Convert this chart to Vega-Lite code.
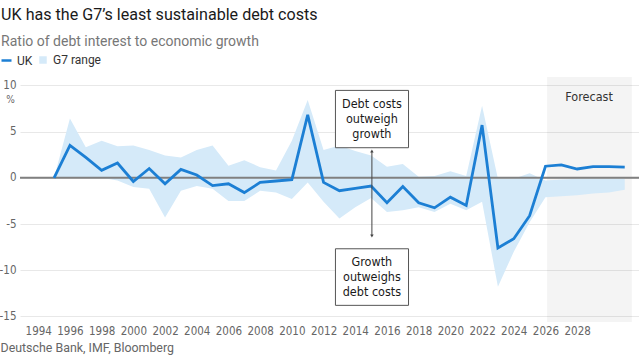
{
  "$schema": "https://vega.github.io/schema/vega-lite/v6.json",
  "autosize": {"type": "none"},
  "width": 619,
  "height": 245,
  "padding": {"left": 20, "top": 77, "right": 0, "bottom": 34},
  "background": "white",
  "config": {
    "view": {"stroke": null},
    "font": "Roboto",
    "axis": {"labelOverlap": false, "labelSeparation": 0, "labelBound": false}
  },
  "title": {
    "text": "UK has the G7’s least sustainable debt costs",
    "subtitle": "Ratio of debt interest to economic growth",
    "anchor": "start",
    "frame": "bounds",
    "dx": 2,
    "fontSize": 16.1,
    "fontWeight": "normal",
    "color": "#1a1a1a",
    "subtitleFontSize": 14,
    "subtitleColor": "#777777",
    "subtitlePadding": 12,
    "offset": 5
  },
  "data": {
    "values": [
      {"year": 1995, "uk": 0, "low": 0, "high": 0},
      {"year": 1996, "uk": 3.5, "low": 0, "high": 6.4},
      {"year": 1997, "uk": 2.2, "low": 0, "high": 3.3},
      {"year": 1998, "uk": 0.8, "low": 0, "high": 4.0},
      {"year": 1999, "uk": 1.6, "low": -0.3, "high": 3.4},
      {"year": 2000, "uk": -0.4, "low": -1.0, "high": 3.5},
      {"year": 2001, "uk": 1.0, "low": -1.2, "high": 3.0},
      {"year": 2002, "uk": -0.65, "low": -4.3, "high": 2.4},
      {"year": 2003, "uk": 0.9, "low": -1.4, "high": 2.2},
      {"year": 2004, "uk": 0.3, "low": -0.9, "high": 3.0},
      {"year": 2005, "uk": -0.85, "low": -1.2, "high": 3.5},
      {"year": 2006, "uk": -0.65, "low": -2.5, "high": 1.3},
      {"year": 2007, "uk": -1.6, "low": -2.5, "high": 1.9},
      {"year": 2008, "uk": -0.5, "low": -1.4, "high": 1.15},
      {"year": 2009, "uk": -0.35, "low": -1.6, "high": 0.8},
      {"year": 2010, "uk": -0.2, "low": -2.3, "high": 4.0},
      {"year": 2011, "uk": 6.8, "low": -0.5, "high": 8.4},
      {"year": 2012, "uk": -0.5, "low": -2.6, "high": 3.0},
      {"year": 2013, "uk": -1.4, "low": -4.4, "high": 3.5},
      {"year": 2014, "uk": -1.15, "low": -3.2, "high": 2.9},
      {"year": 2015, "uk": -0.9, "low": -2.2, "high": 2.4},
      {"year": 2016, "uk": -2.7, "low": -3.7, "high": 1.2},
      {"year": 2017, "uk": -0.95, "low": -3.5, "high": 1.5},
      {"year": 2018, "uk": -2.7, "low": -3.2, "high": 0.1},
      {"year": 2019, "uk": -3.25, "low": -3.7, "high": 0.2},
      {"year": 2020, "uk": -2.1, "low": -2.8, "high": 0.7},
      {"year": 2021, "uk": -3.0, "low": -3.5, "high": 0.2},
      {"year": 2022, "uk": 5.7, "low": -2.6, "high": 7.8},
      {"year": 2023, "uk": -7.6, "low": -11.8, "high": -0.1},
      {"year": 2024, "uk": -6.6, "low": -8.0, "high": -0.1},
      {"year": 2025, "uk": -4.1, "low": -4.8, "high": 0.5},
      {"year": 2026, "uk": 1.25, "low": -2.1, "high": -0.3},
      {"year": 2027, "uk": 1.4, "low": -2.0, "high": -0.2},
      {"year": 2028, "uk": 0.95, "low": -1.9, "high": -0.1},
      {"year": 2029, "uk": 1.2, "low": -1.7, "high": -0.1},
      {"year": 2030, "uk": 1.2, "low": -1.6, "high": -0.1},
      {"year": 2031, "uk": 1.15, "low": -1.3, "high": -0.1}
    ]
  },
  "layer": [
    {
      "data": {"values": [{}]},
      "mark": {"type": "rect", "fill": "#000000", "fillOpacity": 0.045},
      "encoding": {
        "x": {"datum": 2026.1, "type": "quantitative"},
        "x2": {"datum": 2031.45}
      }
    },
    {
      "mark": {"type": "area"},
      "encoding": {
        "x": {
          "field": "year",
          "type": "quantitative",
          "scale": {"domain": [1992.85, 2031.9], "nice": false, "zero": false},
          "axis": {
            "values": [1994, 1996, 1998, 2000, 2002, 2004, 2006, 2008, 2010, 2012, 2014, 2016, 2018, 2020, 2022, 2024, 2026, 2028],
            "tickCount": 40,
            "format": "d",
            "labelOverlap": false,
            "grid": false,
            "domain": false,
            "ticks": false,
            "labelFont": "DejaVu Sans Condensed, Roboto, sans-serif",
            "labelFontSize": 11.5,
            "labelColor": "#666666",
            "labelPadding": 3,
            "title": "Deutsche Bank, IMF, Bloomberg",
            "titleX": -20,
            "titleY": 25,
            "titleAlign": "left",
            "titleAnchor": null,
            "titleBaseline": "middle",
            "titleAngle": 0,
            "titleFont": "Roboto",
            "titleFontSize": 12.4,
            "titleFontWeight": "normal",
            "titleColor": "#666666"
          }
        },
        "y": {
          "field": "low",
          "type": "quantitative",
          "scale": {"domain": [-15.6, 10.9], "nice": false, "zero": false},
          "axis": {
            "values": [-15, -10, -5, 0, 5, 10],
            "tickCount": 10,
            "labelExpr": "'' + datum.value",
            "grid": true,
            "gridColor": "#e8e8e8",
            "gridWidth": 1,
            "domain": false,
            "ticks": false,
            "labelPadding": 4,
            "labelFont": "DejaVu Sans Condensed, Roboto, sans-serif",
            "labelFontSize": 11.5,
            "labelColor": "#666666",
            "title": "%",
            "titleX": -10,
            "titleY": 22,
            "titleAngle": 0,
            "titleAlign": "center",
            "titleBaseline": "middle",
            "titleFont": "DejaVu Sans Condensed, Roboto, sans-serif",
            "titleFontSize": 10,
            "titleFontWeight": "normal",
            "titleColor": "#666666"
          }
        },
        "y2": {"field": "high"},
        "fill": {
          "datum": "G7 range",
          "type": "nominal",
          "scale": {"range": ["#d5eaf9"]},
          "legend": {
            "orient": "none",
            "legendX": 17,
            "legendY": -23,
            "title": null,
            "symbolType": "square",
            "symbolSize": 56,
            "symbolStrokeWidth": 0,
            "labelFont": "Roboto",
            "labelFontSize": 12,
            "labelColor": "#333333",
            "padding": 0
          }
        }
      }
    },
    {
      "data": {"values": [{}]},
      "mark": {"type": "rule", "color": "#808080", "strokeWidth": 1.8},
      "encoding": {"y": {"datum": 0, "type": "quantitative"}}
    },
    {
      "mark": {"type": "line", "strokeWidth": 2.8, "strokeJoin": "miter"},
      "encoding": {
        "x": {"field": "year", "type": "quantitative"},
        "y": {"field": "uk", "type": "quantitative"},
        "color": {
          "datum": "UK",
          "type": "nominal",
          "scale": {"range": ["#1c7fd4"]},
          "legend": {
            "orient": "none",
            "legendX": -20,
            "legendY": -23,
            "title": null,
            "symbolType": "stroke",
            "symbolSize": 100,
            "symbolStrokeWidth": 2.5,
            "labelFont": "Roboto",
            "labelFontSize": 12,
            "labelColor": "#333333",
            "padding": 0
          }
        }
      }
    },
    {
      "data": {"values": [{}]},
      "mark": {"type": "rule", "color": "#444444", "strokeWidth": 1},
      "encoding": {
        "x": {"datum": 2015.05, "type": "quantitative"},
        "y": {"datum": 0, "type": "quantitative"},
        "y2": {"datum": 2.85}
      }
    },
    {
      "data": {"values": [{}]},
      "mark": {"type": "rule", "color": "#444444", "strokeWidth": 1},
      "encoding": {
        "x": {"datum": 2015.05, "type": "quantitative"},
        "y": {"datum": 0, "type": "quantitative"},
        "y2": {"datum": -6.25}
      }
    },
    {
      "data": {"values": [{}]},
      "mark": {"type": "point", "shape": "triangle-up", "filled": true, "color": "#444444", "size": 12, "opacity": 1},
      "encoding": {
        "x": {"datum": 2015.05, "type": "quantitative"},
        "y": {"datum": 2.9, "type": "quantitative"}
      }
    },
    {
      "data": {"values": [{}]},
      "mark": {"type": "point", "shape": "triangle-down", "filled": true, "color": "#444444", "size": 12, "opacity": 1},
      "encoding": {
        "x": {"datum": 2015.05, "type": "quantitative"},
        "y": {"datum": -6.3, "type": "quantitative"}
      }
    },
    {
      "data": {"values": [{}]},
      "mark": {"type": "rect", "fill": "white", "stroke": "#555555", "strokeWidth": 1},
      "encoding": {
        "x": {"datum": 2012.75, "type": "quantitative"},
        "x2": {"datum": 2017.36},
        "y": {"datum": 9.45, "type": "quantitative"},
        "y2": {"datum": 3.25}
      }
    },
    {
      "data": {"values": [{}]},
      "mark": {"type": "rect", "fill": "white", "stroke": "#555555", "strokeWidth": 1},
      "encoding": {
        "x": {"datum": 2012.75, "type": "quantitative"},
        "x2": {"datum": 2017.36},
        "y": {"datum": -7.68, "type": "quantitative"},
        "y2": {"datum": -13.8}
      }
    },
    {
      "data": {"values": [{}]},
      "mark": {"type": "text", "font": "DejaVu Sans Condensed, Roboto, sans-serif", "fontSize": 12.5, "color": "#1a1a1a", "align": "center", "baseline": "middle", "lineHeight": 15},
      "encoding": {
        "x": {"datum": 2015.05, "type": "quantitative"},
        "y": {"datum": 8.0, "type": "quantitative"},
        "text": {"value": ["Debt costs", "outweigh", "growth"]}
      }
    },
    {
      "data": {"values": [{}]},
      "mark": {"type": "text", "font": "DejaVu Sans Condensed, Roboto, sans-serif", "fontSize": 12.5, "color": "#1a1a1a", "align": "center", "baseline": "middle", "lineHeight": 15},
      "encoding": {
        "x": {"datum": 2015.05, "type": "quantitative"},
        "y": {"datum": -9.13, "type": "quantitative"},
        "text": {"value": ["Growth", "outweighs", "debt costs"]}
      }
    },
    {
      "data": {"values": [{}]},
      "mark": {"type": "text", "font": "DejaVu Sans Condensed, Roboto, sans-serif", "fontSize": 12.5, "color": "#333333", "align": "center", "baseline": "middle"},
      "encoding": {
        "x": {"datum": 2028.75, "type": "quantitative"},
        "y": {"datum": 8.7, "type": "quantitative"},
        "text": {"value": "Forecast"}
      }
    }
  ]
}
